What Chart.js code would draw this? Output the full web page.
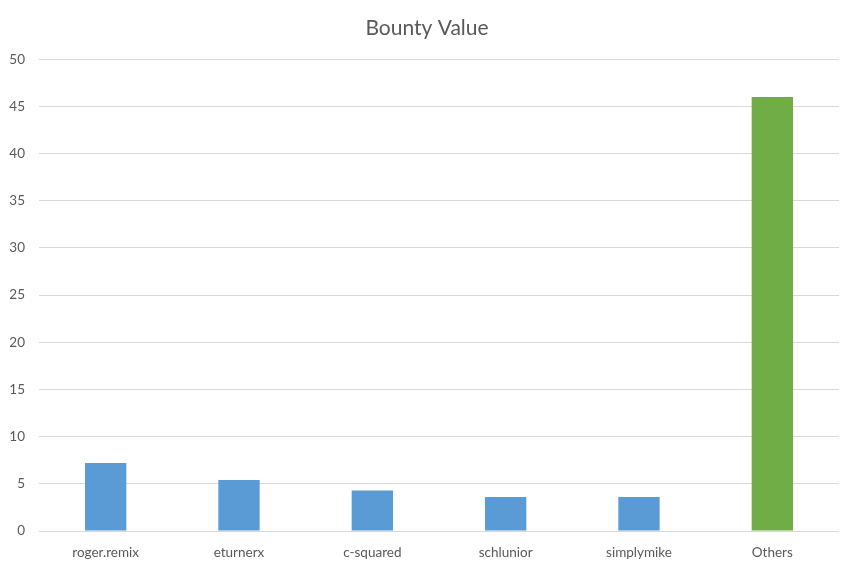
<!DOCTYPE html>
<html>
<head>
<meta charset="utf-8">
<script src="https://cdn.jsdelivr.net/npm/chart.js@4"></script>
<style>
  html, body { margin: 0; padding: 0; background: #fff; }
  #wrap { width: 854px; height: 570px; }
</style>
</head>
<body>
<div id="wrap"><canvas id="graph-bounty" width="854" height="570"></canvas></div>
<script>
const names = ["roger.remix", "eturnerx", "c-squared", "schlunior", "simplymike", "Others"];
const bountyValues = [7.2, 5.4, 4.3, 3.6, 3.6, 46];
const barColors = ["#5b9bd5", "#5b9bd5", "#5b9bd5", "#5b9bd5", "#5b9bd5", "#70ad47"];
const yTicks = [0, 5, 10, 15, 20, 25, 30, 35, 40, 45, 50];

const textColor = "#595959";

const graph = new Chart(
    document.getElementById("graph-bounty"),
    {
        type: "bar",
        data: {
            labels: names,
            datasets: [{
                label: "Bounty Value",
                data: bountyValues,
                backgroundColor: barColors,
                categoryPercentage: 1,
                barPercentage: 0.31
            }]
        },
        options: {
            responsive: false,
            animation: false,
            layout: { padding: 0 },
            plugins: {
                legend: { display: false },
                tooltip: { enabled: false },
                title: {
                    display: true,
                    text: "Bounty Value",
                    color: textColor,
                    font: { family: "Lato", size: 21, weight: "normal" },
                    padding: { top: 16, bottom: 18 }
                }
            },
            scales: {
                x: {
                    grid: { display: false },
                    border: { display: false },
                    afterFit: scale => { scale.height = 39; },
                    ticks: {
                        color: textColor,
                        font: { family: "Lato", size: 13.5 },
                        padding: 6
                    }
                },
                y: {
                    min: 0,
                    max: 50,
                    afterBuildTicks: scale => {
                        scale.ticks = yTicks.map(v => ({ value: v }));
                    },
                    afterFit: scale => { scale.width = 39; },
                    grid: { color: "#d9d9d9", drawTicks: false },
                    border: { display: false },
                    ticks: {
                        color: textColor,
                        font: { family: "Lato", size: 13.5 },
                        padding: 14
                    }
                },
                // empty right margin so the title stays centred on the canvas
                yRight: {
                    position: "right",
                    min: 0,
                    max: 50,
                    grid: { display: false },
                    border: { display: false },
                    ticks: { display: false },
                    afterFit: scale => { scale.width = 15; }
                }
            }
        }
    }
);
</script>
</body>
</html>
